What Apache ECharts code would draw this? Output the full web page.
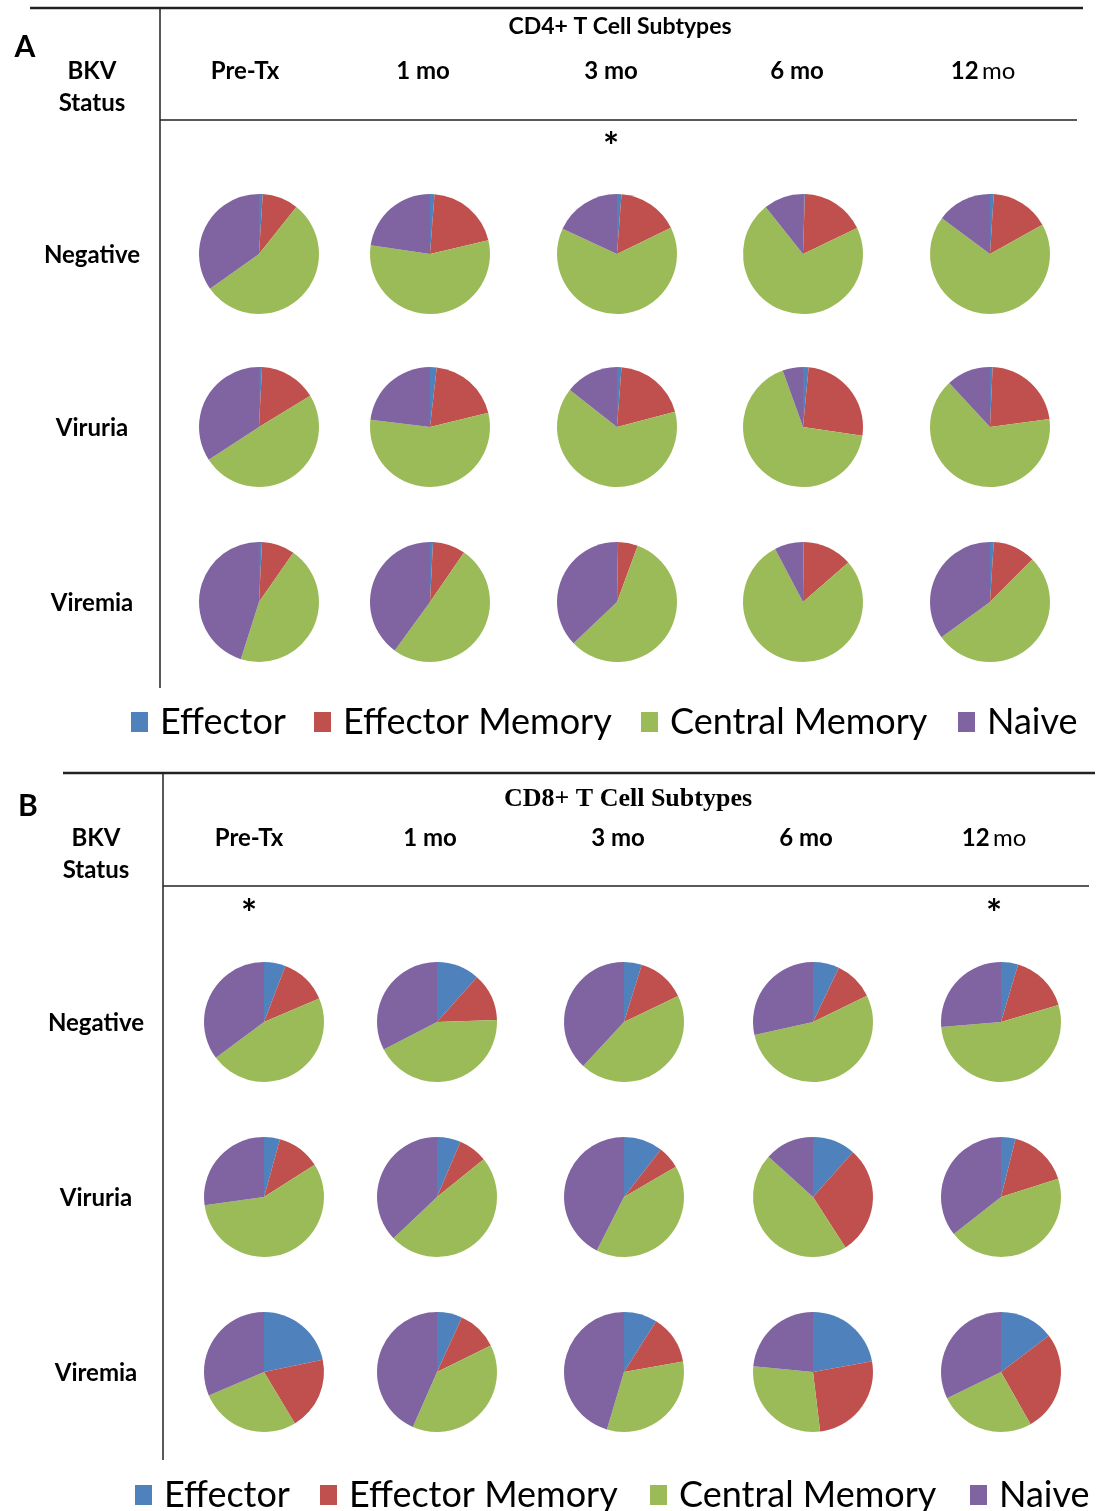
<!DOCTYPE html>
<html><head><meta charset="utf-8">
<script src="https://cdn.jsdelivr.net/npm/echarts@6/dist/echarts.min.js"></script>
<style>html,body{margin:0;padding:0;background:#fff}#chart{width:1102px;height:1511px}</style>
</head><body><div id="chart"></div>
<script>
// ---- data ----
const timepoints = ['Pre-Tx', '1 mo', '3 mo', '6 mo', '12 mo'];
const statuses = ['Negative', 'Viruria', 'Viremia'];
const subtypes = ['Effector', 'Effector Memory', 'Central Memory', 'Naive'];
// each entry: [Effector, Effector Memory, Central Memory, Naive] (%) per timepoint
const cd4Negative = [[1.0, 9.7, 54.5, 34.8], [1.2, 20.1, 56.0, 22.7], [1.2, 16.6, 64.1, 18.1], [0.5, 17.4, 71.4, 10.7], [1.0, 15.9, 68.3, 14.8]];
const cd4Viruria  = [[0.8, 15.5, 49.5, 34.2], [1.8, 19.4, 55.7, 23.1], [1.2, 19.7, 64.7, 14.4], [1.5, 25.8, 67.2, 5.5], [0.7, 22.2, 65.2, 11.9]];
const cd4Viremia  = [[0.8, 8.9, 45.2, 45.1], [0.8, 8.8, 50.4, 40.0], [0.3, 5.3, 57.3, 37.1], [0.2, 13.4, 78.7, 7.7], [1.0, 11.5, 52.5, 35.0]];
const cd8Negative = [[5.8, 12.8, 46.2, 35.2], [11.6, 12.9, 42.9, 32.6], [4.8, 13.1, 44.0, 38.1], [7.1, 10.7, 53.7, 28.5], [4.6, 15.8, 53.3, 26.3]];
const cd8Viruria  = [[4.3, 11.7, 56.8, 27.2], [6.4, 7.8, 48.7, 37.1], [10.5, 6.1, 40.9, 42.5], [11.6, 29.3, 45.8, 13.3], [3.9, 16.2, 44.3, 35.6]];
const cd8Viremia  = [[21.7, 19.7, 27.2, 31.4], [6.8, 10.9, 38.9, 43.4], [9.0, 13.2, 32.4, 45.4], [22.1, 26.0, 28.4, 23.5], [14.7, 27.1, 26.0, 32.2]];
const significant = { cd4: ['3 mo'], cd8: ['Pre-Tx', '12 mo'] };

// ---- styles / layout ----
const colors = ['#4F81BD', '#C0504D', '#9BBB59', '#8064A2'];
const SANS = 'Lato, "Open Sans", sans-serif';
const SERIF = '"Liberation Serif", "DejaVu Serif", serif';
const FS = 24;

const panels = [
  { key: 'cd4', letter: 'A', title: 'CD4+ T Cell Subtypes', titleFont: SANS, titleSize: 23, rows: [cd4Negative, cd4Viruria, cd4Viremia],
    colX: [259, 430, 617, 803, 990], headX: [245, 423, 611, 797, 983], rowY: [254, 427, 602],
    topY: 8, topX0: 30, topX1: 1083, vX: 160, vY1: 688, lineY: 120, lineX1: 1077,
    letterPos: [25, 47], titlePos: [620, 27], headY: 71, bkvX: 92, bkvY: [71, 103], starY: 148, labelX: 92,
    legendY: 722, legendX: [131, 314, 641, 958] },
  { key: 'cd8', letter: 'B', title: 'CD8+ T Cell Subtypes', titleFont: SERIF, titleSize: 26, rows: [cd8Negative, cd8Viruria, cd8Viremia],
    colX: [264, 437, 624, 813, 1001], headX: [249, 430, 618, 806, 994], rowY: [1022, 1197, 1372],
    topY: 773, topX0: 63, topX1: 1095, vX: 163, vY1: 1460, lineY: 886, lineX1: 1089,
    letterPos: [28, 806], titlePos: [628, 799], headY: 838, bkvX: 96, bkvY: [838, 870], starY: 915, labelX: 96,
    legendY: 1495, legendX: [135, 320, 650, 970] }
];

const series = [];
const graphic = [];
const legends = [];

function text(x, y, str, size, extra) {
  graphic.push({
    type: 'text', x: x, y: y, silent: true,
    style: Object.assign({ text: str, fill: '#000', font: 'bold ' + size + 'px ' + SANS, textAlign: 'center', textVerticalAlign: 'middle' }, extra || {})
  });
}
function line(x1, y1, x2, y2, w) {
  graphic.push({ type: 'line', silent: true, shape: { x1: x1, y1: y1, x2: x2, y2: y2 }, style: { stroke: '#222', lineWidth: w } });
}

panels.forEach(function (p) {
  line(p.topX0, p.topY, p.topX1, p.topY, 2.5);
  line(p.vX, p.topY, p.vX, p.vY1, 1.5);
  line(p.vX, p.lineY, p.lineX1, p.lineY, 1.5);
  text(p.letterPos[0], p.letterPos[1], p.letter, 30);
  text(p.titlePos[0], p.titlePos[1], p.title, p.titleSize, { font: 'bold ' + p.titleSize + 'px ' + p.titleFont });
  text(p.bkvX, p.bkvY[0], 'BKV', FS);
  text(p.bkvX, p.bkvY[1], 'Status', FS);
  timepoints.forEach(function (t, c) {
    if (t === '12 mo') {
      graphic.push({ type: 'text', x: p.headX[c], y: p.headY, silent: true,
        style: { text: '{b|12} {r|mo}', textAlign: 'center', textVerticalAlign: 'middle',
          rich: { b: { font: 'bold ' + FS + 'px ' + SANS, fill: '#000' }, r: { font: FS + 'px ' + SANS, fill: '#000' } } } });
    } else {
      text(p.headX[c], p.headY, t, FS);
    }
    if (significant[p.key].indexOf(t) >= 0) text(p.headX[c], p.starY, '*', 38);
  });
  statuses.forEach(function (s, r) {
    text(p.labelX, p.rowY[r] + 1, s, FS);
    p.rows[r].forEach(function (vals, c) {
      series.push({
        type: 'pie', name: p.key + ' ' + s + ' ' + timepoints[c],
        radius: 60, center: [p.colX[c], p.rowY[r]],
        startAngle: 90, clockwise: true, minAngle: 0,
        label: { show: false }, labelLine: { show: false },
        emphasis: { disabled: true }, itemStyle: { borderWidth: 0 },
        data: subtypes.map(function (n, i) { return { name: n, value: vals[i] }; })
      });
    });
  });
  subtypes.forEach(function (n, i) {
    legends.push({ data: [n], left: p.legendX[i], top: p.legendY - 20, padding: 0,
      icon: 'rect', itemWidth: 17, itemHeight: 20, itemGap: 0, selectedMode: false,
      textStyle: { fontFamily: SANS, fontSize: 36, color: '#000', lineHeight: 40, padding: [0, 0, 0, 7] } });
  });
});

const chart = echarts.init(document.getElementById('chart'), null, { renderer: 'canvas' });
chart.setOption({
  animation: false,
  backgroundColor: '#fff',
  color: colors,
  legend: legends,
  series: series,
  graphic: graphic
});
</script></body></html>
